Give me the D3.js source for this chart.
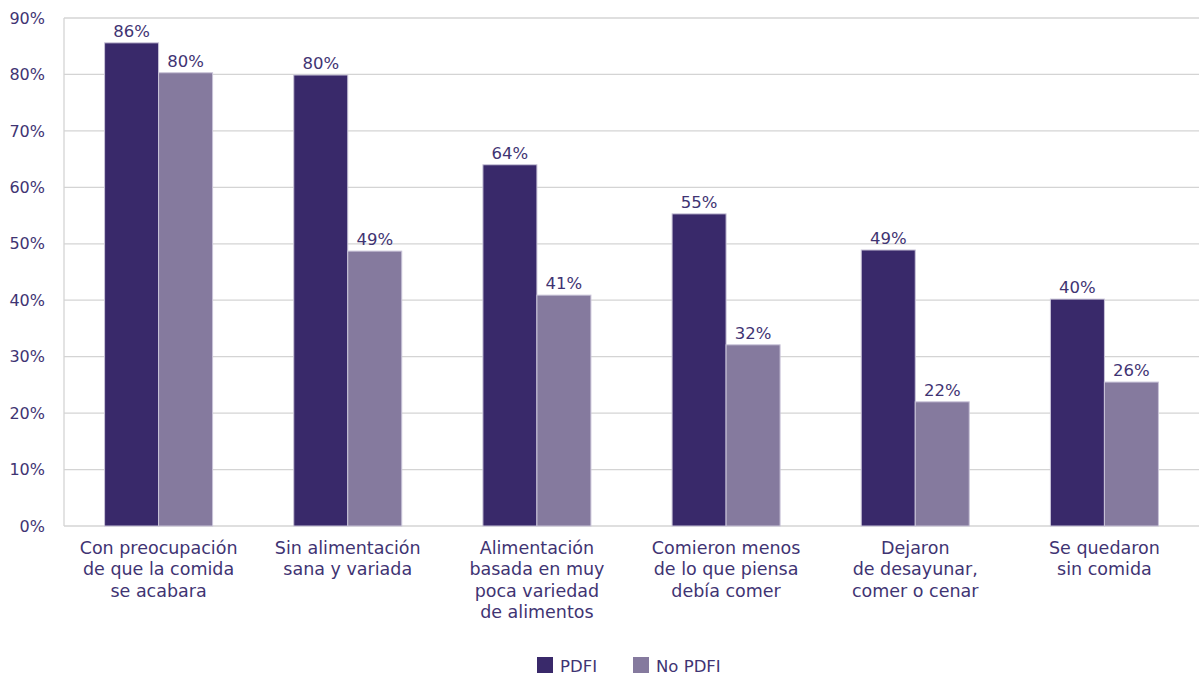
<!DOCTYPE html>
<html><head><meta charset="utf-8">
<script src="https://cdn.jsdelivr.net/npm/d3@7"></script>
<style>body{margin:0;background:#fff;} text{font-family:"DejaVu Sans",sans-serif;}</style>
</head><body><svg id="c" width="1199" height="676"></svg>
<script>
const categories = [
  ["Con preocupación","de que la comida","se acabara"],
  ["Sin alimentación","sana y variada"],
  ["Alimentación","basada en muy","poca variedad","de alimentos"],
  ["Comieron menos","de lo que piensa","debía comer"],
  ["Dejaron","de desayunar,","comer o cenar"],
  ["Se quedaron","sin comida"]
];
const seriesNames = ["PDFI","No PDFI"];
const pdfi = [85.6, 79.9, 64.0, 55.3, 48.9, 40.2];
const noPdfi = [80.3, 48.7, 40.9, 32.1, 22.0, 25.5];
const yTicks = [0,10,20,30,40,50,60,70,80,90];
const colors = ["#39296a","#857a9e"];
const textColor = "#3f3473";
const ff = '"DejaVu Sans",sans-serif';

const svg = d3.select("#c");
const m = {l:64, r:0};
const W = 1199;
const x0 = d3.scaleBand().domain(d3.range(categories.length)).range([m.l, W-m.r]).padding(0);
const x1 = d3.scaleBand().domain([0,1]).range([0, 108]);
const y = d3.scaleLinear().domain([0,90]).range([526, 18]);

// grid
svg.append("g").selectAll("line").data(yTicks).join("line")
  .attr("x1", m.l).attr("x2", W).attr("y1", d=>y(d)).attr("y2", d=>y(d))
  .attr("stroke", "#d4d4d4").attr("stroke-width", 1.3);
svg.append("line").attr("x1", m.l).attr("x2", m.l).attr("y1", y(90)).attr("y2", y(0))
  .attr("stroke", "#d4d4d4").attr("stroke-width", 1.3);

// y axis labels
const yAxis = d3.axisLeft(y).tickValues(yTicks).tickFormat(d=>d+"%").tickSize(0).tickPadding(19);
const ya = svg.append("g").attr("transform", `translate(${m.l},0)`).call(yAxis);
ya.select(".domain").remove();
ya.selectAll("text").attr("fill", textColor).style("font-size","16px").style("font-family",ff);

const data = categories.map((c,i)=>[pdfi[i], noPdfi[i]]);
const groups = svg.append("g").selectAll("g").data(data).join("g")
  .attr("transform", (d,i)=>`translate(${x0(i)+x0.bandwidth()/2-54},0)`);
groups.selectAll("rect").data(d=>d).join("rect")
  .attr("x", (d,j)=>x1(j)).attr("width", x1.bandwidth())
  .attr("y", d=>y(d)).attr("height", d=>y(0)-y(d))
  .attr("fill", (d,j)=>colors[j]).attr("stroke","#c9c4d8").attr("stroke-width",1);
groups.selectAll("text").data(d=>d).join("text")
  .attr("x", (d,j)=>x1(j)+x1.bandwidth()/2).attr("y", d=>y(d)-6)
  .attr("text-anchor","middle").attr("fill", textColor).style("font-size","16.5px")
  .text(d=>Math.round(d)+"%");

// category labels
const cl = svg.append("g").selectAll("text").data(categories).join("text")
  .attr("x",(d,i)=>x0(i)+x0.bandwidth()/2).attr("y",554)
  .attr("text-anchor","middle").attr("fill", textColor).style("font-size","17.5px");
cl.selectAll("tspan").data(d=>d).join("tspan")
  .attr("x", function(){return this.parentNode.getAttribute("x");})
  .attr("dy",(d,k)=>k===0?0:21.3).text(d=>d);

// legend
const legX = [537, 633];
const lg = svg.append("g").selectAll("g").data(seriesNames).join("g")
  .attr("transform",(d,i)=>`translate(${legX[i]},657)`);
lg.append("rect").attr("width",16).attr("height",16).attr("fill",(d,i)=>colors[i]);
lg.append("text").attr("x",23).attr("y",14.5).attr("fill",textColor).style("font-size","16.5px").text(d=>d);
</script></body></html>
